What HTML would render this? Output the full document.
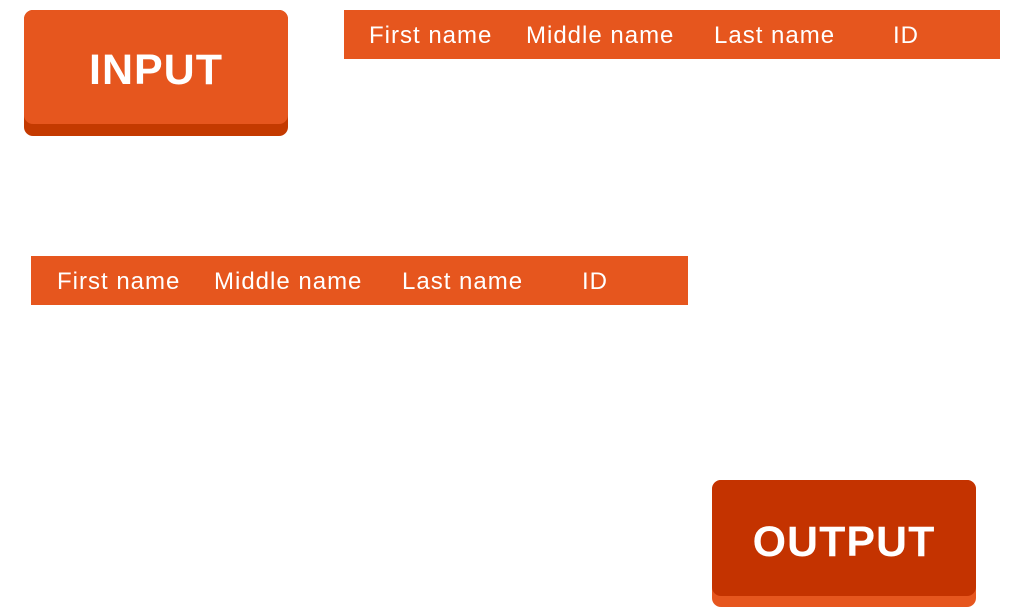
<!DOCTYPE html>
<html><head><style>
body{margin:0;width:1024px;height:616px;background:#fff;position:relative;overflow:hidden;font-family:"Liberation Sans",sans-serif}
.btn{position:absolute;border-radius:9px;color:#fff;font-weight:bold;text-align:center;letter-spacing:1px}
.bar{position:absolute;background:#e6561e;height:49px;color:#fff;font-size:24px;letter-spacing:1px}
.bar span{position:absolute;top:12px;white-space:nowrap}
</style></head><body>
<div class="btn" style="left:24px;top:10px;width:264px;height:126px;background:#c43a00"></div>
<div class="btn" style="left:24px;top:10px;width:264px;height:114px;background:#e6561e;font-size:43px;line-height:120px">INPUT</div>
<div class="btn" style="left:712px;top:480px;width:264px;height:127px;background:#e6561e"></div>
<div class="btn" style="left:712px;top:480px;width:264px;height:116px;background:#c43300;font-size:43px;line-height:124px">OUTPUT</div>
<div class="bar" style="left:344px;top:10px;width:656px">
<span style="left:25px">First name</span><span style="left:182px">Middle name</span><span style="left:370px">Last name</span><span style="left:549px">ID</span></div>
<div class="bar" style="left:31px;top:256px;width:657px">
<span style="left:26px">First name</span><span style="left:183px">Middle name</span><span style="left:371px">Last name</span><span style="left:551px">ID</span></div>
</body></html>
